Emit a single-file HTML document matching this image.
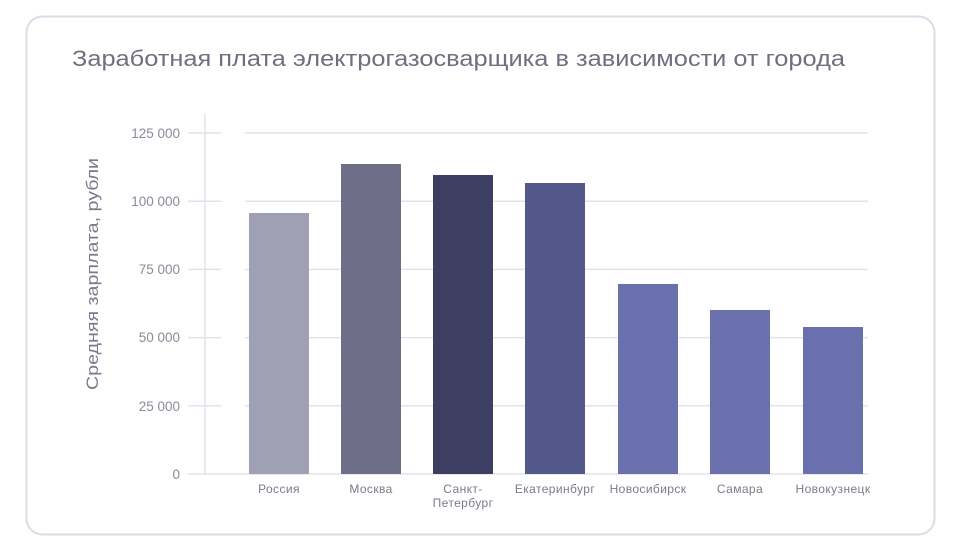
<!DOCTYPE html><html><head><meta charset="utf-8"><style>body{margin:0;background:#fff;width:961px;height:550px;overflow:hidden}</style></head><body>
<svg width="961" height="550" xmlns="http://www.w3.org/2000/svg" font-family="Liberation Sans, sans-serif">
<rect x="26.5" y="16.5" width="908" height="518" rx="16" fill="#fff" stroke="#dcdbe8" stroke-width="2"/>
<text x="72" y="66" font-size="22" fill="#6f6f80" textLength="773" lengthAdjust="spacingAndGlyphs">Заработная плата электрогазосварщика в зависимости от города</text>
<g stroke="#e3e2ec" stroke-width="1.5">
<line x1="188" y1="133" x2="221" y2="133"/><line x1="245" y1="133" x2="868" y2="133"/>
<line x1="188" y1="201.2" x2="221" y2="201.2"/><line x1="245" y1="201.2" x2="868" y2="201.2"/>
<line x1="188" y1="269.4" x2="221" y2="269.4"/><line x1="245" y1="269.4" x2="868" y2="269.4"/>
<line x1="188" y1="337.6" x2="221" y2="337.6"/><line x1="245" y1="337.6" x2="868" y2="337.6"/>
<line x1="188" y1="405.8" x2="221" y2="405.8"/><line x1="245" y1="405.8" x2="868" y2="405.8"/>
<line x1="188" y1="474" x2="868" y2="474"/>
<line x1="205" y1="113" x2="205" y2="474"/>
</g>
<g font-size="13.5" fill="#8a8a98" text-anchor="end">
<text x="180" y="138">125 000</text><text x="180" y="206">100 000</text><text x="180" y="274">75 000</text>
<text x="180" y="342">50 000</text><text x="180" y="411">25 000</text><text x="180" y="479">0</text>
</g>
<text transform="translate(98,274) rotate(-90)" font-size="17" fill="#7a7a8c" text-anchor="middle" textLength="232" lengthAdjust="spacingAndGlyphs">Средняя зарплата, рубли</text>
<rect x="249" y="213" width="60" height="261" fill="#a0a0b4"/>
<rect x="341" y="164" width="60" height="310" fill="#6e6e88"/>
<rect x="433" y="175" width="60" height="299" fill="#3c3e62"/>
<rect x="525" y="183" width="60" height="291" fill="#52588a"/>
<rect x="618" y="284" width="60" height="190" fill="#6970ad"/>
<rect x="710" y="310" width="60" height="164" fill="#6970ad"/>
<rect x="803" y="327" width="60" height="147" fill="#6970ad"/>
<g font-size="12" fill="#7a7a8a" text-anchor="middle" letter-spacing="0.4">
<text x="279" y="493">Россия</text><text x="371" y="493">Москва</text>
<text x="463" y="493">Санкт-</text><text x="463" y="507">Петербург</text>
<text x="555" y="493">Екатеринбург</text><text x="648" y="493">Новосибирск</text>
<text x="740" y="493">Самара</text><text x="833" y="493">Новокузнецк</text>
</g>
</svg></body></html>
